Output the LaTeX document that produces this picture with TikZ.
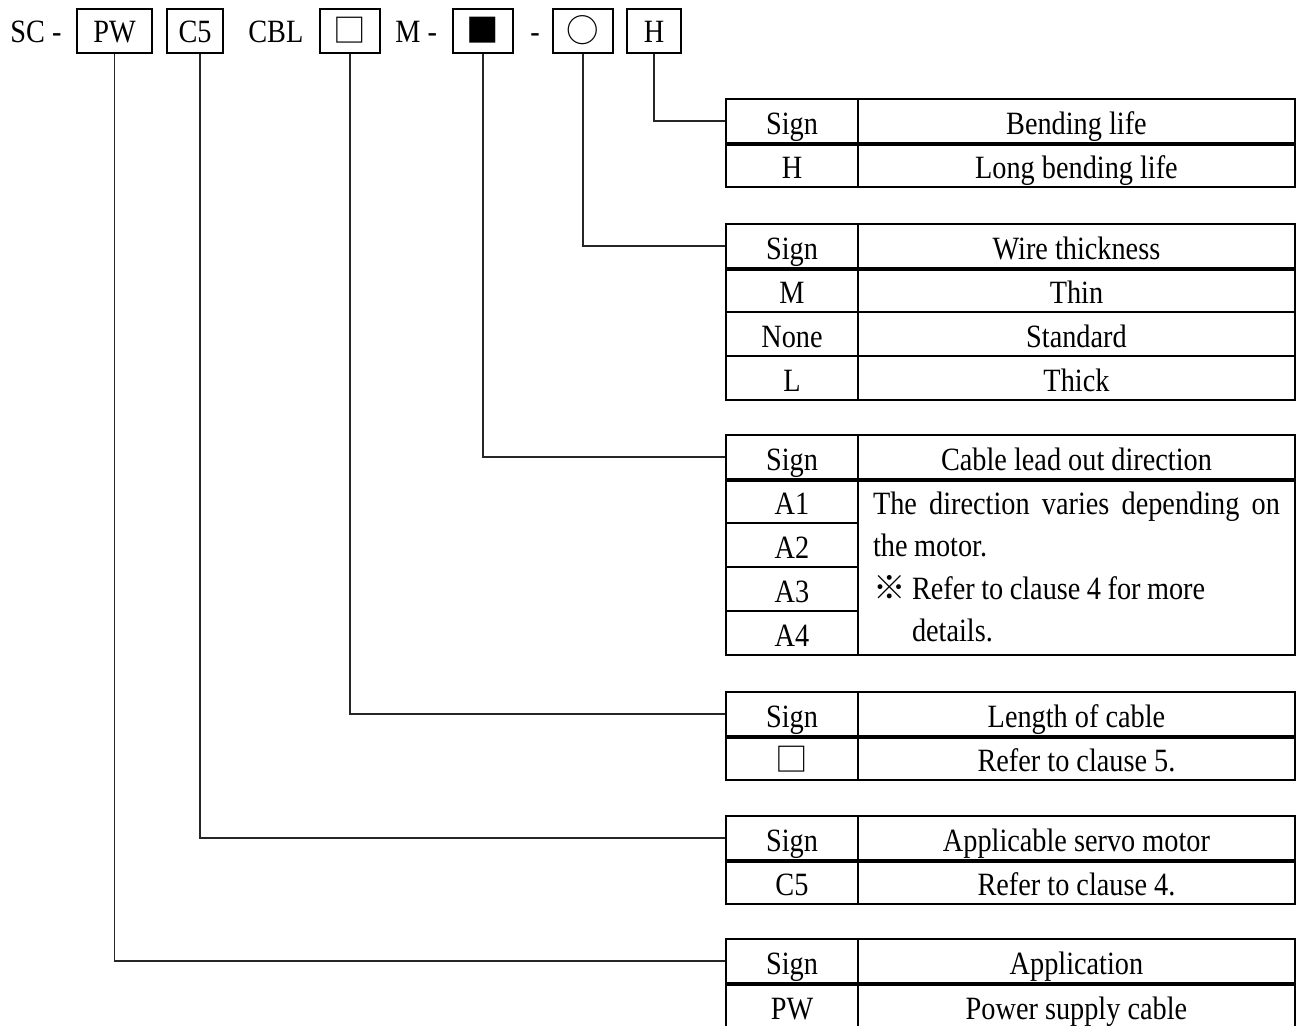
\documentclass[tikz,border=0pt]{standalone}
\usepackage{fontspec}
\setmainfont{Liberation Serif}[FakeStretch=0.87]
\newfontfamily\cjk{Noto Sans CJK JP}
\usepackage{tikz}

\begin{document}
\begin{tikzpicture}[x=0.02cm, y=-0.02cm, font=\fontsize{18.5}{24.2}\selectfont]
	\tikzstyle{txt} = [inner sep=0pt, anchor=base west]
	\tikzstyle{code} = [draw, line width=0.04cm, minimum height=0.88cm, text height=12.6pt, text depth=0pt, inner sep=0pt]
	\tikzstyle{sign} = [draw, line width=0.04cm, anchor=north west, minimum width=2.64cm, minimum height=0.88cm, text height=15pt, text depth=0pt, inner sep=0pt]
	\tikzstyle{desc} = [sign, minimum width=8.74cm]
	\tikzstyle{note} = [draw, line width=0.04cm, anchor=north west, minimum width=8.74cm, minimum height=3.52cm, inner xsep=0.3cm, inner ysep=0pt, text width=8.14cm, align=left]
	\tikzstyle{bold} = [line width=0.07cm]
	\tikzstyle{wire} = [line width=0.035cm, black!85]
	\useasboundingbox (0,0) rectangle (1296,1026);

	% model code
	\node[txt] (sc) at (10,43) {SC -};
	\node[code, minimum width=1.5cm] (bPW) at (114.5,31) {PW};
	\node[code, minimum width=1.12cm] (bC5) at (195,31) {C5};
	\node[txt] (cbl) at (248,43) {CBL};
	\node[code, minimum width=1.2cm] (bLen) at (350,31) {\cjk □};
	\node[txt] (m) at (395,43) {M -};
	\node[code, minimum width=1.2cm] (bDir) at (483,31) {\cjk ■};
	\node[txt] (dash) at (530,43) {-};
	\node[code, minimum width=1.2cm] (bWire) at (583,31) {\cjk ○};
	\node[code, minimum width=1.08cm] (bLife) at (654,31) {H};

	% bending life
	\node[sign] (s1) at (725,98) {Sign};
	\node[desc] (d1) at (857,98) {Bending life};
	\node[sign] (s1a) at (725,142) {H};
	\node[desc] (d1a) at (857,142) {Long bending life};
	\draw[bold] (s1.south west) -- (d1.south east);

	% wire thickness
	\node[sign] (s2) at (725,223) {Sign};
	\node[desc] (d2) at (857,223) {Wire thickness};
	\node[sign] (s2a) at (725,267) {M};
	\node[desc] (d2a) at (857,267) {Thin};
	\node[sign] (s2b) at (725,311) {None};
	\node[desc] (d2b) at (857,311) {Standard};
	\node[sign] (s2c) at (725,355) {L};
	\node[desc] (d2c) at (857,355) {Thick};
	\draw[bold] (s2.south west) -- (d2.south east);

	% lead out direction
	\node[sign] (s3) at (725,434) {Sign};
	\node[desc] (d3) at (857,434) {Cable lead out direction};
	\node[sign] (s3a) at (725,478) {A1};
	\node[sign] (s3b) at (725,522) {A2};
	\node[sign] (s3c) at (725,566) {A3};
	\node[sign] (s3d) at (725,610) {A4};
	\node[note] (d3a) at (857,478) {\spaceskip=0.2em plus 1em
		\makebox[8.14cm][s]{The direction varies depending on}\\
		the motor.\\
		{\cjk ※}\ Refer to clause 4 for more\\
		\hphantom{{\cjk ※}\ }details.};
	\draw[bold] (s3.south west) -- (d3.south east);

	% length of cable
	\node[sign] (s4) at (725,691) {Sign};
	\node[desc] (d4) at (857,691) {Length of cable};
	\node[sign] (s4a) at (725,735) {\cjk □};
	\node[desc] (d4a) at (857,735) {Refer to clause 5.};
	\draw[bold] (s4.south west) -- (d4.south east);

	% servo motor
	\node[sign] (s5) at (725,815) {Sign};
	\node[desc] (d5) at (857,815) {Applicable servo motor};
	\node[sign] (s5a) at (725,859) {C5};
	\node[desc] (d5a) at (857,859) {Refer to clause 4.};
	\draw[bold] (s5.south west) -- (d5.south east);

	% application
	\node[sign] (s6) at (725,938) {Sign};
	\node[desc] (d6) at (857,938) {Application};
	\node[sign, minimum height=0.94cm] (s6a) at (725,982) {PW};
	\node[desc, minimum height=0.94cm] (d6a) at (857,982) {Power supply cable};
	\draw[bold] (s6.south west) -- (d6.south east);

	% leaders
	\draw[wire] (bLife.south) |- (s1.west);
	\draw[wire] (bWire.south) |- (s2.west);
	\draw[wire] (bDir.south) |- (s3.west);
	\draw[wire] (bLen.south) |- (s4.west);
	\draw[wire] ([xshift=0.1cm]bC5.south) |- (s5.west);
	\draw[wire] (bPW.south) |- (s6.west);
\end{tikzpicture}
\end{document}
